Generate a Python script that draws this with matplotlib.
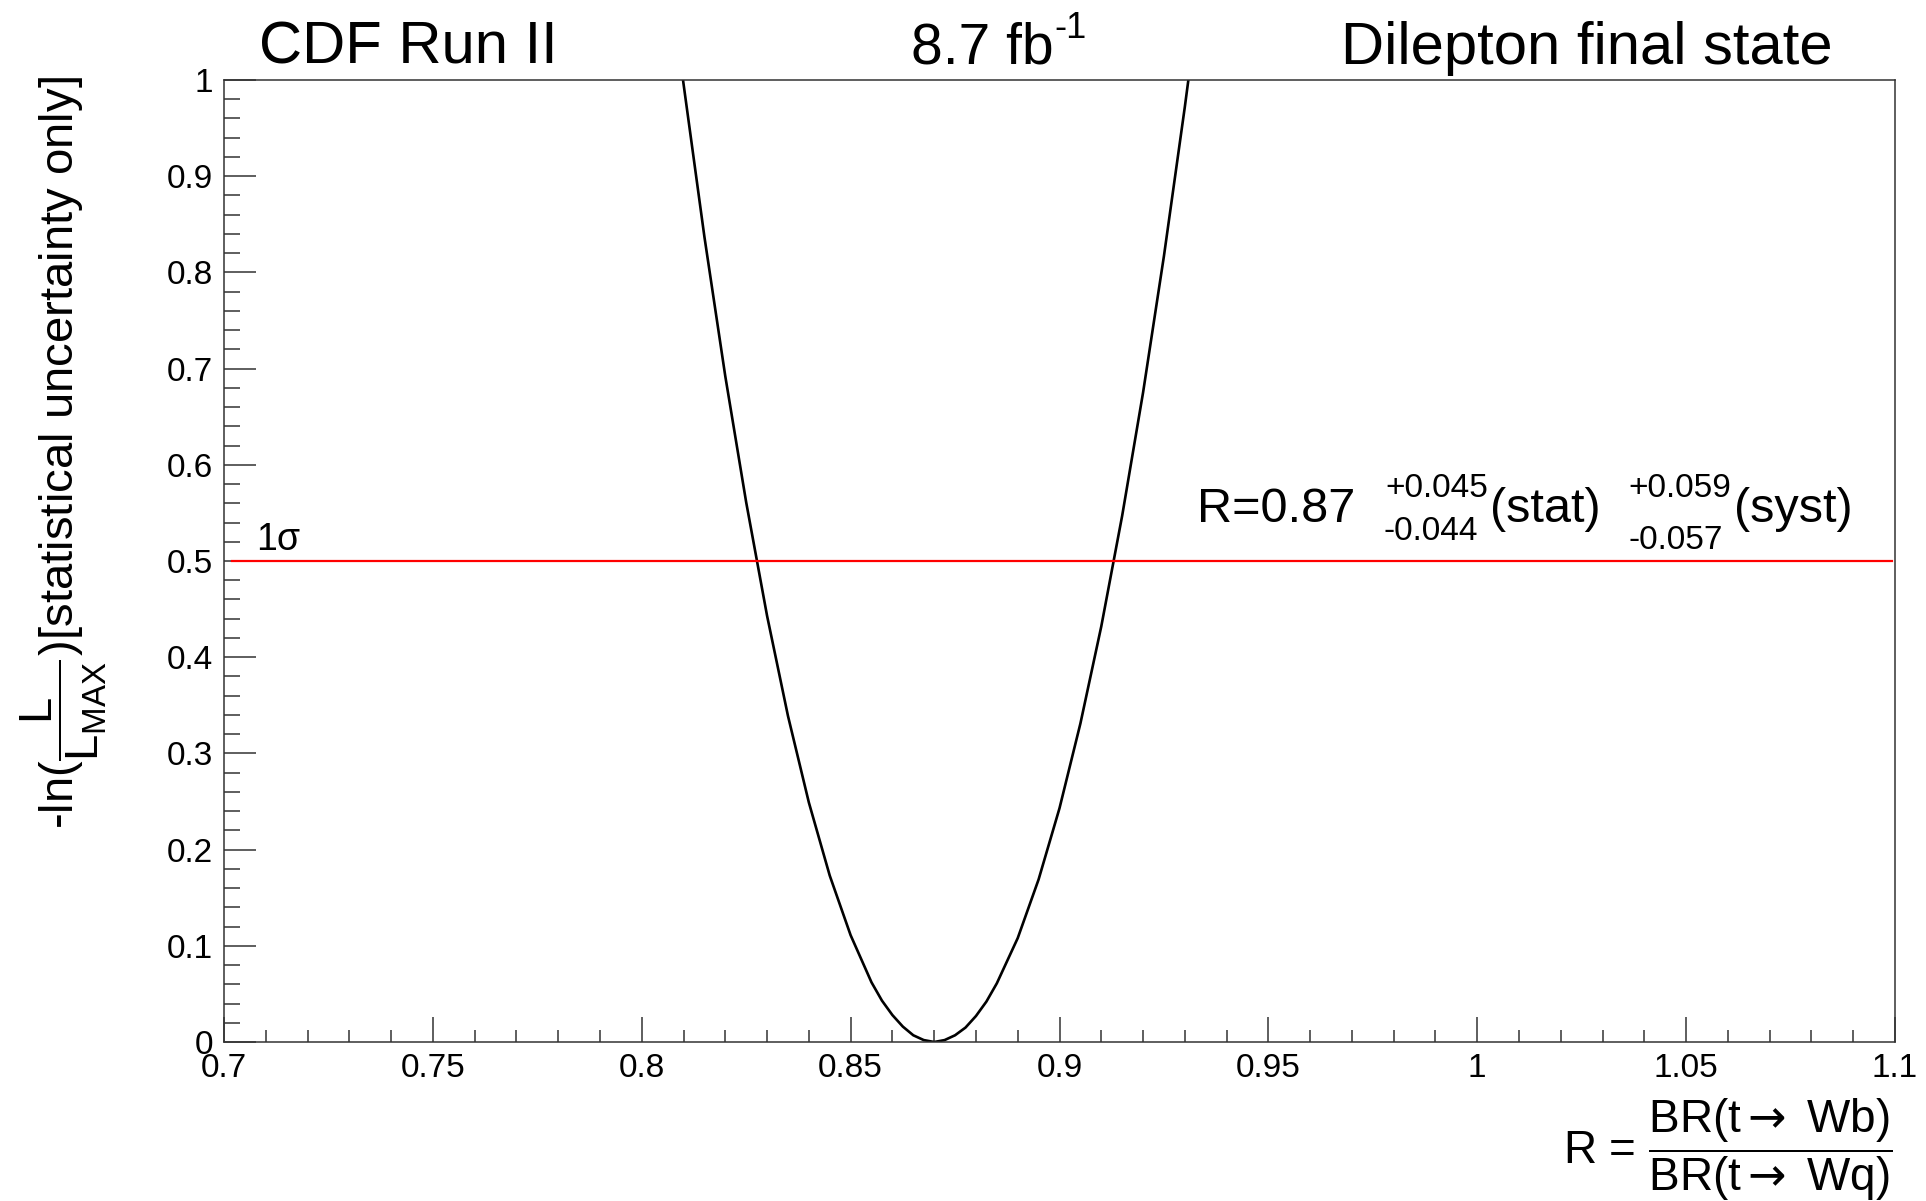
import numpy as np
import matplotlib
matplotlib.use('Agg')
import matplotlib.pyplot as plt
from matplotlib.ticker import MultipleLocator, FormatStrFormatter

plt.rcParams['font.family'] = ['Liberation Sans', 'DejaVu Sans']
plt.rcParams['mathtext.fontset'] = 'custom'
plt.rcParams['mathtext.rm'] = 'Liberation Sans'
plt.rcParams['mathtext.it'] = 'Liberation Sans'
plt.rcParams['mathtext.sf'] = 'DejaVu Sans'
plt.rcParams['mathtext.default'] = 'regular'

# -ln(L/Lmax) scan
r_vals = [0.8095, 0.810, 0.815, 0.820, 0.825, 0.830, 0.835, 0.840, 0.845, 0.850,
          0.855, 0.8575, 0.860, 0.8625, 0.865, 0.8675, 0.870, 0.8725, 0.875,
          0.8775, 0.880, 0.8825, 0.885, 0.890, 0.895, 0.900, 0.905, 0.910,
          0.915, 0.920, 0.925, 0.930, 0.931]
nll_vals = [1.013, 0.996, 0.837, 0.692, 0.561, 0.443, 0.339, 0.249, 0.173, 0.111,
            0.062, 0.043, 0.028, 0.016, 0.007, 0.002, 0.000, 0.002, 0.007,
            0.015, 0.027, 0.042, 0.061, 0.108, 0.169, 0.243, 0.331, 0.432,
            0.547, 0.675, 0.817, 0.972, 1.005]

one_sigma = 0.5
x_lim = (0.7, 1.1)
y_lim = (0.0, 1.0)

W, H = 1926, 1201
def fx(px):
    return px / W
def fy(py):
    return 1 - py / H

fig = plt.figure(figsize=(W / 100, H / 100), dpi=100)
ax = fig.add_axes([fx(224), fy(1042), (1895 - 224) / W, (1042 - 80) / H])

ax.plot(r_vals, nll_vals, color='black', lw=1.9)
ax.axhline(one_sigma, xmin=0.005, xmax=0.998, color='red', lw=1.6)

ax.set_xlim(*x_lim)
ax.set_ylim(*y_lim)
ax.xaxis.set_major_locator(MultipleLocator(0.05))
ax.xaxis.set_minor_locator(MultipleLocator(0.01))
ax.yaxis.set_major_locator(MultipleLocator(0.1))
ax.yaxis.set_minor_locator(MultipleLocator(0.02))
ax.xaxis.set_major_formatter(FormatStrFormatter('%g'))
ax.yaxis.set_major_formatter(FormatStrFormatter('%g'))

ax.tick_params(axis='both', which='both', direction='in', top=False, right=False,
               labelsize=24, width=1.1, color='#333333')
ax.tick_params(axis='x', which='major', length=18, pad=8)
ax.tick_params(axis='x', which='minor', length=9)
ax.tick_params(axis='y', which='major', length=23, pad=8)
ax.tick_params(axis='y', which='minor', length=11.5)
for s in ax.spines.values():
    s.set_linewidth(1.1)
    s.set_color('#333333')

# header texts
fig.text(fx(259), fy(64), 'CDF Run II', fontsize=43, va='baseline')
fig.text(fx(911), fy(64), '8.7 fb', fontsize=41, va='baseline')
fig.text(fx(1054), fy(38), '-1', fontsize=26, va='baseline')
fig.text(fx(1833), fy(64), 'Dilepton final state', fontsize=43, va='baseline', ha='right')

# annotations
fig.text(fx(256), fy(550), '1σ', fontsize=27, va='baseline')
fig.text(fx(1197), fy(522), 'R=0.87', fontsize=35, va='baseline')
fig.text(fx(1385), fy(497), '+0.045', fontsize=24, va='baseline')
fig.text(fx(1383), fy(540), '-0.044', fontsize=24, va='baseline')
fig.text(fx(1490), fy(522), '(stat)', fontsize=35, va='baseline')
fig.text(fx(1628), fy(497), '+0.059', fontsize=24, va='baseline')
fig.text(fx(1628), fy(549), '-0.057', fontsize=24, va='baseline')
fig.text(fx(1734), fy(522), '(syst)', fontsize=35, va='baseline')

# axis titles
fig.text(fx(1893), fy(1150),
         r'R = $\dfrac{BR(t\mathsf{\rightarrow}\ Wb)}{BR(t\mathsf{\rightarrow}\ Wq)}$',
         fontsize=33, ha='right', va='center')
fig.text(fx(64), fy(76),
         r'-ln($\dfrac{L}{L_{MAX}}$)[statistical uncertainty only]',
         fontsize=34, rotation=90, ha='center', va='top')

fig.savefig('out.png', dpi=100)
